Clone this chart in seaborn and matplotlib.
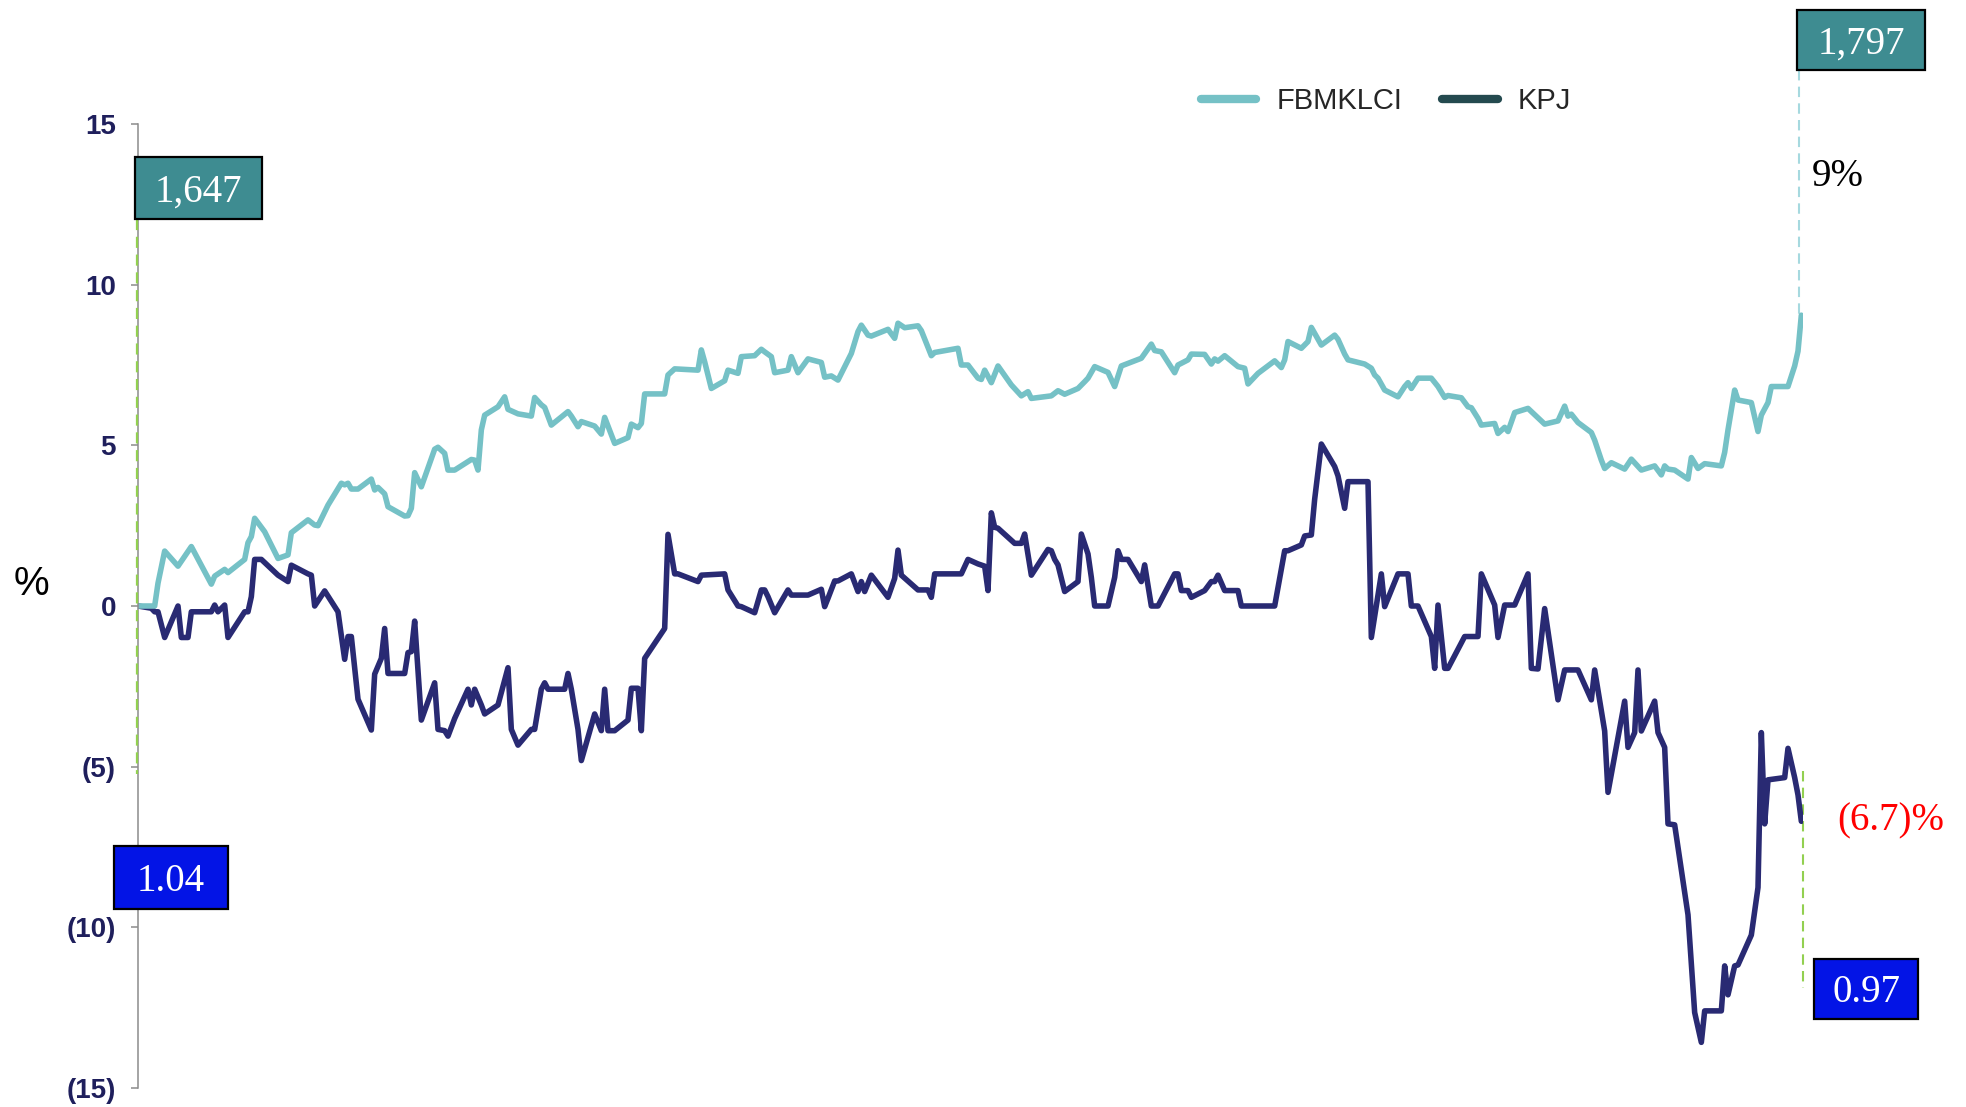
import matplotlib
matplotlib.use("Agg")
import matplotlib.pyplot as plt
import seaborn as sns
import pandas as pd
from matplotlib.lines import Line2D
from matplotlib.patches import Rectangle
from matplotlib.ticker import FuncFormatter

# ---------------- data (trading-day index, % change) ----------------
fbm_day = [0, 5, 6, 8, 12, 16, 22, 23, 26, 27, 32, 33, 34, 35, 38, 42, 45, 46, 51, 53, 54, 57, 61, 62, 63, 64, 66,
           70, 71, 72, 74, 75, 80, 81, 82, 83,
           85, 89, 90, 92, 93, 95, 100, 101, 102, 103, 104, 108, 110, 111, 114, 118, 119, 121, 122, 124, 129, 130,
           132, 133, 137, 139, 140, 143, 147, 148, 150, 151, 152, 158, 159, 161, 168, 169,
           170, 172, 176, 177, 180, 181, 185, 187, 188, 190, 191, 195, 196, 198, 201, 205, 206, 208, 210, 214, 216,
           217, 219, 220, 225, 227, 228, 230, 234, 235, 238, 239, 246, 247, 249, 252,
           253, 254, 256, 258, 262, 265, 267, 268, 274, 276, 278, 282, 284, 285, 287, 291, 293, 295, 297, 301, 304,
           305, 307, 311, 312, 315, 316, 320, 322, 323, 324, 326, 330, 332, 333, 336,
           341, 343, 344, 345, 349, 351, 352, 355, 359, 360, 362, 363, 368, 370, 371, 372, 374, 378, 380, 381, 382,
           384, 388, 390, 392, 393, 397, 399, 400, 402, 403, 407, 408, 410, 411, 413, 417,
           422, 426, 428, 429, 430, 432, 436, 437, 439, 440, 442, 446, 448, 451, 455, 457, 458, 459, 461, 465, 466,
           468, 470, 475, 476, 477, 479, 480, 484, 486, 487, 489, 490, 495, 497, 498, 499]
fbm_val = [0, 0, 0.71, 1.71, 1.24, 1.85, 0.68, 0.93, 1.14, 1.04, 1.45, 1.97, 2.16, 2.73, 2.31, 1.48, 1.59, 2.28,
           2.68, 2.52, 2.50, 3.14, 3.82, 3.77, 3.82, 3.64, 3.64, 3.95, 3.61, 3.69, 3.49, 3.09, 2.80, 2.81, 3.04, 4.15,
           3.71, 4.88, 4.94, 4.75, 4.23, 4.23, 4.56, 4.54, 4.23, 5.48, 5.94, 6.20, 6.51, 6.12, 5.98, 5.91, 6.49, 6.26,
           6.18, 5.63, 6.05, 5.91, 5.58, 5.74, 5.60, 5.35, 5.87, 5.06, 5.24, 5.66, 5.55, 5.68, 6.60, 6.60, 7.19, 7.38,
           7.34, 7.97,
           7.60, 6.77, 7.01, 7.34, 7.24, 7.76, 7.79, 7.99, 7.91, 7.76, 7.26, 7.34, 7.76, 7.26, 7.69, 7.58, 7.12, 7.16,
           7.03, 7.86, 8.54, 8.74, 8.43, 8.40, 8.61, 8.33, 8.80, 8.66, 8.72, 8.57, 7.79, 7.89, 8.02, 7.50, 7.50, 7.09,
           7.05, 7.34, 6.95, 7.47, 6.88, 6.54, 6.67, 6.46, 6.54, 6.70, 6.59, 6.77, 6.98, 7.09, 7.45, 7.27, 6.83, 7.47,
           7.55, 7.71, 8.15, 7.95, 7.91, 7.26, 7.50, 7.66, 7.84, 7.83, 7.53, 7.69, 7.62, 7.79, 7.45, 7.40, 6.91, 7.24,
           7.63, 7.42, 7.66, 8.23, 8.02, 8.23, 8.67, 8.12, 8.43, 8.30, 7.84, 7.66, 7.53, 7.40, 7.19, 7.09, 6.72, 6.51,
           6.83, 6.95, 6.77, 7.09, 7.09, 6.83, 6.49, 6.55, 6.48, 6.20, 6.17, 5.84, 5.63, 5.68, 5.37, 5.56, 5.43, 6.02,
           6.15,
           5.66, 5.76, 6.22, 5.91, 5.97, 5.71, 5.40, 5.16, 4.54, 4.28, 4.46, 4.26, 4.57, 4.23, 4.36, 4.08, 4.36, 4.26,
           4.23, 3.95, 4.62, 4.28, 4.43, 4.36, 4.78, 5.48, 6.72, 6.41, 6.33, 5.43, 5.94, 6.33, 6.83, 6.83, 7.47, 7.93,
           9.05]

kpj_day = [0, 4, 5, 6, 8, 12, 13, 15, 16, 22, 23, 24, 26, 27, 32, 33, 34, 35, 37, 42, 45, 46, 51, 52, 53, 56, 60,
           62, 63, 64, 66, 70, 71, 73, 74, 75, 80, 81, 82, 83,
           85, 89, 90, 92, 93, 95, 99, 100, 101, 103, 104, 108, 111, 112, 114, 118, 119, 121, 122, 123, 128, 129, 130,
           132, 133, 137, 139, 140, 141, 143, 147, 148, 150, 151, 152, 158, 159, 161, 162, 168, 169,
           176, 177, 180, 181, 185, 187, 188, 189, 191, 195, 196, 201, 205, 206, 207, 209, 210, 214, 216, 217, 218,
           220, 225, 227, 228, 229, 234, 237, 238, 239, 247, 249, 252,
           254, 255, 256, 257, 258, 263, 265, 266, 268, 273, 274, 275, 276, 278, 282, 283, 285, 286, 287, 291, 293,
           294, 295, 297, 301, 302, 304, 306, 311, 312, 313, 315, 316, 320, 322, 323, 324, 326, 330, 331, 336,
           341, 344, 345, 349, 350, 352, 353, 355, 359, 360, 362, 363, 369, 370, 373, 374, 378, 381, 382, 384, 388,
           389, 390, 392, 393, 398, 402, 403, 407, 408, 410, 413, 417, 418,
           420, 422, 426, 428, 432, 436, 437, 440, 441, 446, 447, 449, 450, 451, 455, 456, 458, 459, 461, 465, 467,
           469, 470, 475, 476, 477, 479, 480, 484, 486, 487, 488, 489, 494, 495, 497, 498, 499]
kpj_val = [0, -0.07, -0.18, -0.18, -0.98, 0, -0.98, -0.98, -0.18, -0.18, 0.03, -0.18, 0.03, -0.98, -0.18, -0.18,
           0.29, 1.45, 1.45, 0.96, 0.76, 1.27, 1.00, 0.96, 0, 0.47, -0.18, -1.66, -0.95, -0.95, -2.90, -3.86, -2.12,
           -1.63, -0.70, -2.10, -2.10, -1.45, -1.42, -0.47,
           -3.55, -2.39, -3.84, -3.88, -4.05, -3.50, -2.59, -3.08, -2.59, -3.08, -3.36, -3.08, -1.92, -3.84, -4.33,
           -3.84, -3.84, -2.59, -2.39, -2.59, -2.59, -2.10, -2.59, -3.84, -4.81, -3.36, -3.88, -2.59, -3.88, -3.88,
           -3.55, -2.56, -2.56, -3.88, -1.63, -0.70, 2.23, 1.00, 1.00, 0.76, 0.96,
           1.00, 0.50, 0, -0.02, -0.21, 0.50, 0.50, 0.29, -0.21, 0.50, 0.34, 0.34, 0.52, -0.02, 0.24, 0.78, 0.78,
           1.00, 0.45, 0.76, 0.45, 0.96, 0.27, 0.86, 1.74, 0.96, 0.50, 0.50, 0.27, 1.00, 1.00, 1.45, 1.31,
           1.24, 0.48, 2.90, 2.45, 2.42, 1.95, 1.95, 2.24, 0.96, 1.76, 1.72, 1.45, 1.28, 0.45, 0.76, 2.24, 1.62, 0.89,
           0, 0, 0.89, 1.72, 1.45, 1.45, 0.76, 1.28, 0, 0, 1.00, 1.00, 0.48, 0.48, 0.27, 0.48, 0.76, 0.76, 0.96, 0.48,
           0.48, 0, 0,
           0, 1.72, 1.72, 1.90, 2.18, 2.21, 3.32, 5.04, 4.34, 4.05, 3.04, 3.87, 3.87, -0.98, 1.00, -0.02, 1.00, 1.00,
           0, 0, -0.95, -1.94, 0.03, -1.94, -1.94, -0.95, -0.95, 1.00, 0.03, -0.98, 0.03, 0.03, 1.00, -1.94,
           -1.96, -0.08, -2.92, -1.99, -1.99, -2.92, -1.99, -3.89, -5.80, -2.96, -4.40, -3.94, -1.99, -3.89, -2.96,
           -3.94, -4.40, -6.78, -6.81, -9.61, -12.65, -13.58, -12.60, -12.60, -11.20, -12.10, -11.20, -11.17, -10.24,
           -8.76, -3.94, -6.78, -5.41, -5.34, -4.43, -5.34, -5.88, -6.70]

series_names = ["FBMKLCI", "KPJ"]
y_ticks = [-15, -10, -5, 0, 5, 10, 15]
start_labels = ["1,647", "1.04"]
end_labels = ["1,797", "0.97"]
change_labels = ["9%", "(6.7)%"]

# ---------------- styling ----------------
TEAL = "#75C1C6"
NAVY = "#292A73"
KPJ_LEGEND = "#244A4F"
BOX_TEAL = "#3E8C91"
BOX_BLUE = "#0314E6"
TICK_NAVY = "#1F1F5C"
GREEN_DASH = "#92D050"
BLUE_DASH = "#A6D9DF"

sns.set_theme(style="white")
plt.rcParams["font.family"] = ["Liberation Sans", "DejaVu Sans"]
SERIF = ["Liberation Serif", "DejaVu Serif"]

W, H = 1966, 1107
fig = plt.figure(figsize=(W / 100, H / 100), dpi=100)
ax = fig.add_axes([138 / W, 1 - 1088 / H, (1803 - 138) / W, (1088 - 124) / H])

df = pd.concat([
    pd.DataFrame({"day": kpj_day, "value": kpj_val, "series": series_names[1]}),
    pd.DataFrame({"day": fbm_day, "value": fbm_val, "series": series_names[0]}),
], ignore_index=True)

sns.lineplot(data=df, x="day", y="value", hue="series",
             hue_order=[series_names[1], series_names[0]],
             palette={series_names[0]: TEAL, series_names[1]: NAVY},
             legend=False, estimator=None, sort=False, ax=ax)
for ln in ax.get_lines():
    ln.set_linewidth(4.0)
    ln.set_solid_joinstyle("round")
    ln.set_solid_capstyle("round")

ax.set_xlim(0, 499.5)
ax.set_ylim(-15, 15)
ax.set_xticks([])
ax.set_yticks(y_ticks)
ax.yaxis.set_major_formatter(FuncFormatter(lambda v, p: f"({abs(int(v))})" if v < 0 else f"{int(v)}"))
ax.set_xlabel("")
ax.set_ylabel("")
for s in ["top", "right", "bottom"]:
    ax.spines[s].set_visible(False)
ax.spines["left"].set_color("#8C8C8C")
ax.spines["left"].set_linewidth(1.1)
ax.tick_params(axis="y", direction="out", length=5.3, width=1.1, color="#8C8C8C",
               pad=10.5, labelsize=20, labelcolor=TICK_NAVY, left=True)
for lab in ax.get_yticklabels():
    lab.set_fontweight("bold")

# dashed guide lines
ax.plot([-0.4, -0.4], [12.04, -5.23], color=GREEN_DASH, lw=1.6, ls=(0, (5, 3)), clip_on=False, zorder=3)
ax.plot([498.3, 498.3], [16.68, 9.05], color=BLUE_DASH, lw=1.5, ls=(0, (5, 3)), clip_on=False, zorder=1)
ax.plot([499.5, 499.5], [-5.13, -11.89], color=GREEN_DASH, lw=1.5, ls=(0, (5, 3)), clip_on=False, zorder=1)


def box(cx, cy, w, h, txt, fc):
    fig.add_artist(Rectangle(((cx - w / 2) / W, 1 - (cy + h / 2) / H), w / W, h / H,
                             transform=fig.transFigure, facecolor=fc, edgecolor="black", linewidth=1.6))
    fig.text(cx / W, 1 - (cy + 4) / H, txt, ha="center", va="center", color="white",
             fontsize=28, family=SERIF)


box(198.5, 188, 127, 62, start_labels[0], BOX_TEAL)
box(171, 877.5, 114, 63, start_labels[1], BOX_BLUE)
box(1861, 40, 128, 60, end_labels[0], BOX_TEAL)
box(1866, 989, 104, 60, end_labels[1], BOX_BLUE)

fig.text(1838 / W, 1 - 177 / H, change_labels[0], ha="center", va="center", color="black",
         fontsize=28, family=SERIF)
fig.text(1891 / W, 1 - 821 / H, change_labels[1], ha="center", va="center", color="#FF0000",
         fontsize=28, family=SERIF)
fig.text(31 / W, 1 - 584 / H, "%", ha="center", va="center", color="black", fontsize=29)

handles = [Line2D([], [], color=TEAL, lw=6), Line2D([], [], color=KPJ_LEGEND, lw=6)]
fig.legend(handles, series_names, loc="center left", bbox_to_anchor=(1201 / W, 1 - 101 / H),
           ncol=2, frameon=False, fontsize=21, handlelength=1.9, handletextpad=0.7,
           columnspacing=1.35, borderpad=0, borderaxespad=0)

fig.savefig("out.png", dpi=100, facecolor="white")
